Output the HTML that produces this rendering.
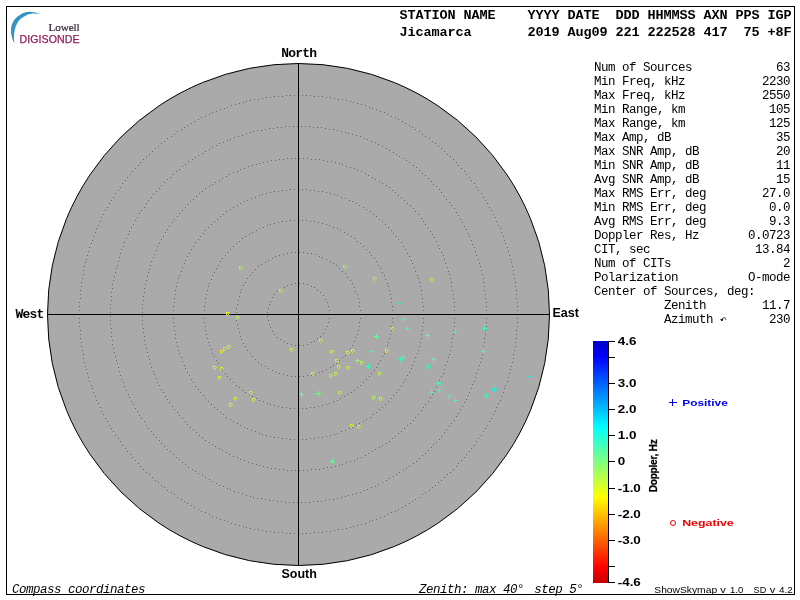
<!DOCTYPE html>
<html><head><meta charset="utf-8"><title>Skymap</title>
<style>
html,body{margin:0;padding:0;background:#fff;}
body{width:800px;height:600px;overflow:hidden;}
svg{display:block;will-change:transform;}
text{white-space:pre;}
.m{font-family:"Liberation Mono",monospace;font-size:12.5px;letter-spacing:-0.5px;fill:#000;}
.mi{font-family:"Liberation Mono",monospace;font-style:italic;font-size:12.5px;letter-spacing:-0.5px;fill:#000;}
.hb{font-family:"Liberation Mono",monospace;font-weight:bold;font-size:13.5px;letter-spacing:-0.1px;fill:#000;}
.mb{font-family:"Liberation Mono",monospace;font-weight:bold;font-size:13px;letter-spacing:-0.8px;fill:#000;}
.sb{font-family:"Liberation Sans",sans-serif;font-weight:bold;fill:#000;}
.s{font-family:"Liberation Sans",sans-serif;fill:#000;}
</style></head><body>
<svg width="800" height="600" viewBox="0 0 800 600">
<defs>
<linearGradient id="jet" x1="0" y1="341" x2="0" y2="583" gradientUnits="userSpaceOnUse">
<stop offset="0" stop-color="#0000c6"/>
<stop offset="0.0652" stop-color="#0000ff"/>
<stop offset="0.3551" stop-color="#00ffff"/>
<stop offset="0.5" stop-color="#80ff80"/>
<stop offset="0.6449" stop-color="#ffff00"/>
<stop offset="0.9348" stop-color="#ff0000"/>
<stop offset="1" stop-color="#c60000"/>
</linearGradient>
<path id="cm" d="M0 0h3v1h-2v2h-1zM3 1h1v1h-1zM2 2h1v1h-1zM1 3h1v1h-1z" stroke="none" shape-rendering="crispEdges"/>
</defs>
<rect x="0" y="0" width="800" height="600" fill="#fff"/>
<rect x="6.5" y="6.5" width="788" height="588" fill="none" stroke="#000" stroke-width="1"/>

<g id="logo">
<path d="M14 42.8 C11.8 38 10.6 33 11.1 28 C12.1 19.3 21 11.2 31.5 11.9 C35 12.1 38 13 40.4 14.3 C35 13 30.5 13.4 27 15 C22 17.2 19.2 19.7 17.2 23.2 C14.6 28 13.2 35 14.4 42.8 Z" fill="#3494c0"/>
<text x="48.6" y="30.6" style="font-family:'Liberation Serif',serif;font-size:11.2px;letter-spacing:-0.15px;fill:#2c1a2c;stroke:#2c1a2c;stroke-width:0.2px;">Lowell</text>
<text x="19.4" y="43.45" style="font-family:'Liberation Sans',sans-serif;font-size:10.6px;letter-spacing:0.1px;fill:#8e1f58;stroke:#8e1f58;stroke-width:0.25px;">DIGISONDE</text>
</g>
<text class="hb" x="399.4" y="19">STATION NAME    YYYY DATE  DDD HHMMSS AXN PPS IGP</text>
<text class="hb" x="399.4" y="36">Jicamarca       2019 Aug09 221 222528 417  75 +8F</text>
<circle cx="298.5" cy="314.5" r="251.0" fill="#aaaaaa" stroke="#000" stroke-width="1"/>
<path d="M329 314h1M329 318h1M328 322h1M327 326h1M325 329h1M323 333h1M320 336h1M317 338h1M314 341h1M311 342h1M307 344h1M303 345h1M299 345h1M295 345h1M291 344h1M287 343h1M284 341h1M280 339h1M277 337h1M274 334h1M272 331h1M270 327h1M269 324h1M268 320h1M267 316h1M267 312h1M268 308h1M269 304h1M270 301h1M272 297h1M274 294h1M277 291h1M280 289h1M284 287h1M287 285h1M291 284h1M295 283h1M299 283h1M303 283h1M307 284h1M311 286h1M314 287h1M317 290h1M320 292h1M323 295h1M325 299h1M327 302h1M328 306h1M329 310h1M360 314h1M360 318h1M359 322h1M359 326h1M358 330h1M357 334h1M355 337h1M354 341h1M352 345h1M350 348h1M347 351h1M345 355h1M342 357h1M339 360h1M336 363h1M333 365h1M330 367h1M326 369h1M322 371h1M319 372h1M315 374h1M311 375h1M307 375h1M303 376h1M299 376h1M295 376h1M291 376h1M287 375h1M283 374h1M279 373h1M275 372h1M272 370h1M268 368h1M265 366h1M261 364h1M258 362h1M255 359h1M252 356h1M250 353h1M247 350h1M245 346h1M243 343h1M241 339h1M240 336h1M239 332h1M238 328h1M237 324h1M236 320h1M236 316h1M236 312h1M236 308h1M237 304h1M238 300h1M239 296h1M240 292h1M241 289h1M243 285h1M245 282h1M247 278h1M250 275h1M252 272h1M255 269h1M258 266h1M261 264h1M265 262h1M268 260h1M272 258h1M275 256h1M279 255h1M283 254h1M287 253h1M291 252h1M295 252h1M299 252h1M303 252h1M307 253h1M311 253h1M315 254h1M319 256h1M322 257h1M326 259h1M330 261h1M333 263h1M336 265h1M339 268h1M342 271h1M345 273h1M347 277h1M350 280h1M352 283h1M354 287h1M355 291h1M357 294h1M358 298h1M359 302h1M359 306h1M360 310h1M392 314h1M392 318h1M392 322h1M391 326h1M391 330h1M390 334h1M389 338h1M388 342h1M387 345h1M385 349h1M384 353h1M382 356h1M380 360h1M378 363h1M376 367h1M374 370h1M371 373h1M369 376h1M366 379h1M363 382h1M360 385h1M357 387h1M354 390h1M351 392h1M347 394h1M344 396h1M340 398h1M337 400h1M333 401h1M329 403h1M326 404h1M322 405h1M318 406h1M314 407h1M310 407h1M306 408h1M302 408h1M298 408h1M294 408h1M290 408h1M286 407h1M282 407h1M278 406h1M274 405h1M270 404h1M267 403h1M263 401h1M259 400h1M256 398h1M252 396h1M249 394h1M245 392h1M242 390h1M239 387h1M236 385h1M233 382h1M230 379h1M227 376h1M225 373h1M222 370h1M220 367h1M218 363h1M216 360h1M214 356h1M212 353h1M211 349h1M209 345h1M208 342h1M207 338h1M206 334h1M205 330h1M205 326h1M204 322h1M204 318h1M204 314h1M204 310h1M204 306h1M205 302h1M205 298h1M206 294h1M207 290h1M208 286h1M209 283h1M211 279h1M212 275h1M214 272h1M216 268h1M218 265h1M220 261h1M222 258h1M225 255h1M227 252h1M230 249h1M233 246h1M236 243h1M239 241h1M242 238h1M245 236h1M249 234h1M252 232h1M256 230h1M259 228h1M263 227h1M267 225h1M270 224h1M274 223h1M278 222h1M282 221h1M286 221h1M290 220h1M294 220h1M298 220h1M302 220h1M306 220h1M310 221h1M314 221h1M318 222h1M322 223h1M326 224h1M329 225h1M333 227h1M337 228h1M340 230h1M344 232h1M347 234h1M351 236h1M354 238h1M357 241h1M360 243h1M363 246h1M366 249h1M369 252h1M371 255h1M374 258h1M376 261h1M378 265h1M380 268h1M382 272h1M384 275h1M385 279h1M387 283h1M388 286h1M389 290h1M390 294h1M391 298h1M391 302h1M392 306h1M392 310h1M423 314h1M423 318h1M423 322h1M422 326h1M422 330h1M421 334h1M421 338h1M420 342h1M419 346h1M418 350h1M417 353h1M415 357h1M414 361h1M412 365h1M411 368h1M409 372h1M407 375h1M405 379h1M403 382h1M401 386h1M398 389h1M396 392h1M393 395h1M391 398h1M388 401h1M385 404h1M382 407h1M379 409h1M376 412h1M373 414h1M370 417h1M366 419h1M363 421h1M359 423h1M356 425h1M352 427h1M349 428h1M345 430h1M341 431h1M337 433h1M334 434h1M330 435h1M326 436h1M322 437h1M318 437h1M314 438h1M310 438h1M306 439h1M302 439h1M298 439h1M294 439h1M290 439h1M286 438h1M282 438h1M278 437h1M274 437h1M270 436h1M266 435h1M262 434h1M259 433h1M255 431h1M251 430h1M247 428h1M244 427h1M240 425h1M237 423h1M233 421h1M230 419h1M226 417h1M223 414h1M220 412h1M217 409h1M214 407h1M211 404h1M208 401h1M205 398h1M203 395h1M200 392h1M198 389h1M195 386h1M193 382h1M191 379h1M189 375h1M187 372h1M185 368h1M184 365h1M182 361h1M181 357h1M179 353h1M178 350h1M177 346h1M176 342h1M175 338h1M175 334h1M174 330h1M174 326h1M173 322h1M173 318h1M173 314h1M173 310h1M173 306h1M174 302h1M174 298h1M175 294h1M175 290h1M176 286h1M177 282h1M178 278h1M179 275h1M181 271h1M182 267h1M184 263h1M185 260h1M187 256h1M189 253h1M191 249h1M193 246h1M195 242h1M198 239h1M200 236h1M203 233h1M205 230h1M208 227h1M211 224h1M214 221h1M217 219h1M220 216h1M223 214h1M226 211h1M230 209h1M233 207h1M237 205h1M240 203h1M244 201h1M247 200h1M251 198h1M255 197h1M259 195h1M262 194h1M266 193h1M270 192h1M274 191h1M278 191h1M282 190h1M286 190h1M290 189h1M294 189h1M298 189h1M302 189h1M306 189h1M310 190h1M314 190h1M318 191h1M322 191h1M326 192h1M330 193h1M334 194h1M337 195h1M341 197h1M345 198h1M349 200h1M352 201h1M356 203h1M359 205h1M363 207h1M366 209h1M370 211h1M373 214h1M376 216h1M379 219h1M382 221h1M385 224h1M388 227h1M391 230h1M393 233h1M396 236h1M398 239h1M401 242h1M403 246h1M405 249h1M407 253h1M409 256h1M411 260h1M412 263h1M414 267h1M415 271h1M417 275h1M418 278h1M419 282h1M420 286h1M421 290h1M421 294h1M422 298h1M422 302h1M423 306h1M423 310h1M454 314h1M454 318h1M454 322h1M454 326h1M453 330h1M453 334h1M452 338h1M451 342h1M451 346h1M450 350h1M449 354h1M448 357h1M447 361h1M445 365h1M444 369h1M443 373h1M441 376h1M439 380h1M438 383h1M436 387h1M434 391h1M432 394h1M430 397h1M428 401h1M425 404h1M423 407h1M421 410h1M418 414h1M415 417h1M413 420h1M410 423h1M407 425h1M404 428h1M401 431h1M398 433h1M395 436h1M392 438h1M389 441h1M386 443h1M382 445h1M379 447h1M375 449h1M372 451h1M368 453h1M365 455h1M361 457h1M357 458h1M354 460h1M350 461h1M346 462h1M342 464h1M339 465h1M335 466h1M331 467h1M327 467h1M323 468h1M319 469h1M315 469h1M311 469h1M307 470h1M303 470h1M299 470h1M295 470h1M291 470h1M287 470h1M283 469h1M279 469h1M275 468h1M271 468h1M267 467h1M263 466h1M259 465h1M256 464h1M252 463h1M248 462h1M244 460h1M240 459h1M237 457h1M233 456h1M229 454h1M226 452h1M222 450h1M219 448h1M215 446h1M212 444h1M209 442h1M205 440h1M202 437h1M199 435h1M196 432h1M193 429h1M190 427h1M187 424h1M185 421h1M182 418h1M179 415h1M177 412h1M174 409h1M172 406h1M169 402h1M167 399h1M165 396h1M163 392h1M161 389h1M159 385h1M157 382h1M156 378h1M154 374h1M153 371h1M151 367h1M150 363h1M149 359h1M148 356h1M147 352h1M146 348h1M145 344h1M144 340h1M144 336h1M143 332h1M143 328h1M142 324h1M142 320h1M142 316h1M142 312h1M142 308h1M142 304h1M143 300h1M143 296h1M144 292h1M144 288h1M145 284h1M146 280h1M147 276h1M148 272h1M149 269h1M150 265h1M151 261h1M153 257h1M154 254h1M156 250h1M157 246h1M159 243h1M161 239h1M163 236h1M165 232h1M167 229h1M169 226h1M172 222h1M174 219h1M177 216h1M179 213h1M182 210h1M185 207h1M187 204h1M190 201h1M193 199h1M196 196h1M199 193h1M202 191h1M205 188h1M209 186h1M212 184h1M215 182h1M219 180h1M222 178h1M226 176h1M229 174h1M233 172h1M237 171h1M240 169h1M244 168h1M248 166h1M252 165h1M256 164h1M259 163h1M263 162h1M267 161h1M271 160h1M275 160h1M279 159h1M283 159h1M287 158h1M291 158h1M295 158h1M299 158h1M303 158h1M307 158h1M311 159h1M315 159h1M319 159h1M323 160h1M327 161h1M331 161h1M335 162h1M339 163h1M342 164h1M346 166h1M350 167h1M354 168h1M357 170h1M361 171h1M365 173h1M368 175h1M372 177h1M375 179h1M379 181h1M382 183h1M386 185h1M389 187h1M392 190h1M395 192h1M398 195h1M401 197h1M404 200h1M407 203h1M410 205h1M413 208h1M415 211h1M418 214h1M421 218h1M423 221h1M425 224h1M428 227h1M430 231h1M432 234h1M434 237h1M436 241h1M438 245h1M439 248h1M441 252h1M443 255h1M444 259h1M445 263h1M447 267h1M448 271h1M449 274h1M450 278h1M451 282h1M451 286h1M452 290h1M453 294h1M453 298h1M454 302h1M454 306h1M454 310h1M486 314h1M486 318h1M486 322h1M486 326h1M485 330h1M485 334h1M484 338h1M484 342h1M483 346h1M483 350h1M482 354h1M481 358h1M480 362h1M479 365h1M478 369h1M476 373h1M475 377h1M474 381h1M472 384h1M471 388h1M469 392h1M468 395h1M466 399h1M464 402h1M462 406h1M460 409h1M458 413h1M456 416h1M454 420h1M451 423h1M449 426h1M446 429h1M444 432h1M441 436h1M439 439h1M436 442h1M433 444h1M431 447h1M428 450h1M425 453h1M422 455h1M419 458h1M416 461h1M413 463h1M409 466h1M406 468h1M403 470h1M399 472h1M396 474h1M393 476h1M389 478h1M386 480h1M382 482h1M378 484h1M375 486h1M371 487h1M367 489h1M364 490h1M360 492h1M356 493h1M352 494h1M348 495h1M345 496h1M341 497h1M337 498h1M333 499h1M329 499h1M325 500h1M321 501h1M317 501h1M313 501h1M309 502h1M305 502h1M301 502h1M297 502h1M293 502h1M289 502h1M285 502h1M281 501h1M277 501h1M273 500h1M269 500h1M265 499h1M261 498h1M257 498h1M253 497h1M250 496h1M246 495h1M242 493h1M238 492h1M234 491h1M230 489h1M227 488h1M223 486h1M219 485h1M216 483h1M212 481h1M209 479h1M205 477h1M202 475h1M198 473h1M195 471h1M192 469h1M188 467h1M185 464h1M182 462h1M179 459h1M176 457h1M173 454h1M170 451h1M167 449h1M164 446h1M161 443h1M159 440h1M156 437h1M153 434h1M151 431h1M148 428h1M146 425h1M144 421h1M141 418h1M139 415h1M137 411h1M135 408h1M133 404h1M131 401h1M129 397h1M128 394h1M126 390h1M124 386h1M123 382h1M121 379h1M120 375h1M119 371h1M118 367h1M117 363h1M116 360h1M115 356h1M114 352h1M113 348h1M112 344h1M112 340h1M111 336h1M111 332h1M111 328h1M110 324h1M110 320h1M110 316h1M110 312h1M110 308h1M110 304h1M111 300h1M111 296h1M111 292h1M112 288h1M112 284h1M113 280h1M114 276h1M115 272h1M116 268h1M117 265h1M118 261h1M119 257h1M120 253h1M121 249h1M123 246h1M124 242h1M126 238h1M128 234h1M129 231h1M131 227h1M133 224h1M135 220h1M137 217h1M139 213h1M141 210h1M144 207h1M146 203h1M148 200h1M151 197h1M153 194h1M156 191h1M159 188h1M161 185h1M164 182h1M167 179h1M170 177h1M173 174h1M176 171h1M179 169h1M182 166h1M185 164h1M188 161h1M192 159h1M195 157h1M198 155h1M202 153h1M205 151h1M209 149h1M212 147h1M216 145h1M219 143h1M223 142h1M227 140h1M230 139h1M234 137h1M238 136h1M242 135h1M246 133h1M250 132h1M253 131h1M257 130h1M261 130h1M265 129h1M269 128h1M273 128h1M277 127h1M281 127h1M285 126h1M289 126h1M293 126h1M297 126h1M301 126h1M305 126h1M309 126h1M313 127h1M317 127h1M321 127h1M325 128h1M329 129h1M333 129h1M337 130h1M341 131h1M345 132h1M348 133h1M352 134h1M356 135h1M360 136h1M364 138h1M367 139h1M371 141h1M375 142h1M378 144h1M382 146h1M386 148h1M389 150h1M393 152h1M396 154h1M399 156h1M403 158h1M406 160h1M409 162h1M413 165h1M416 167h1M419 170h1M422 173h1M425 175h1M428 178h1M431 181h1M433 184h1M436 186h1M439 189h1M441 192h1M444 196h1M446 199h1M449 202h1M451 205h1M454 208h1M456 212h1M458 215h1M460 219h1M462 222h1M464 226h1M466 229h1M468 233h1M469 236h1M471 240h1M472 244h1M474 247h1M475 251h1M476 255h1M478 259h1M479 263h1M480 266h1M481 270h1M482 274h1M483 278h1M483 282h1M484 286h1M484 290h1M485 294h1M485 298h1M486 302h1M486 306h1M486 310h1M517 314h1M517 318h1M517 322h1M517 326h1M516 330h1M516 334h1M516 338h1M515 342h1M515 346h1M514 350h1M513 354h1M513 358h1M512 362h1M511 366h1M510 369h1M509 373h1M508 377h1M507 381h1M505 385h1M504 388h1M503 392h1M501 396h1M500 400h1M498 403h1M496 407h1M495 411h1M493 414h1M491 418h1M489 421h1M487 425h1M485 428h1M483 431h1M481 435h1M478 438h1M476 441h1M474 445h1M471 448h1M469 451h1M466 454h1M464 457h1M461 460h1M458 463h1M456 466h1M453 469h1M450 472h1M447 474h1M444 477h1M441 480h1M438 482h1M435 485h1M432 487h1M429 490h1M425 492h1M422 494h1M419 497h1M415 499h1M412 501h1M409 503h1M405 505h1M402 507h1M398 509h1M395 511h1M391 512h1M387 514h1M384 516h1M380 517h1M376 519h1M372 520h1M369 521h1M365 523h1M361 524h1M357 525h1M353 526h1M350 527h1M346 528h1M342 529h1M338 529h1M334 530h1M330 531h1M326 531h1M322 532h1M318 532h1M314 532h1M310 533h1M306 533h1M302 533h1M298 533h1M294 533h1M290 533h1M286 533h1M282 532h1M278 532h1M274 532h1M270 531h1M266 531h1M262 530h1M258 529h1M254 529h1M250 528h1M246 527h1M243 526h1M239 525h1M235 524h1M231 523h1M227 521h1M224 520h1M220 519h1M216 517h1M212 516h1M209 514h1M205 512h1M201 511h1M198 509h1M194 507h1M191 505h1M187 503h1M184 501h1M181 499h1M177 497h1M174 494h1M171 492h1M167 490h1M164 487h1M161 485h1M158 482h1M155 480h1M152 477h1M149 474h1M146 472h1M143 469h1M140 466h1M138 463h1M135 460h1M132 457h1M130 454h1M127 451h1M125 448h1M122 445h1M120 441h1M118 438h1M115 435h1M113 431h1M111 428h1M109 425h1M107 421h1M105 418h1M103 414h1M101 411h1M100 407h1M98 403h1M96 400h1M95 396h1M93 392h1M92 388h1M91 385h1M89 381h1M88 377h1M87 373h1M86 369h1M85 366h1M84 362h1M83 358h1M83 354h1M82 350h1M81 346h1M81 342h1M80 338h1M80 334h1M80 330h1M79 326h1M79 322h1M79 318h1M79 314h1M79 310h1M79 306h1M79 302h1M80 298h1M80 294h1M80 290h1M81 286h1M81 282h1M82 278h1M83 274h1M83 270h1M84 266h1M85 262h1M86 259h1M87 255h1M88 251h1M89 247h1M91 243h1M92 240h1M93 236h1M95 232h1M96 228h1M98 225h1M100 221h1M101 217h1M103 214h1M105 210h1M107 207h1M109 203h1M111 200h1M113 197h1M115 193h1M118 190h1M120 187h1M122 183h1M125 180h1M127 177h1M130 174h1M132 171h1M135 168h1M138 165h1M140 162h1M143 159h1M146 156h1M149 154h1M152 151h1M155 148h1M158 146h1M161 143h1M164 141h1M167 138h1M171 136h1M174 134h1M177 131h1M181 129h1M184 127h1M187 125h1M191 123h1M194 121h1M198 119h1M201 117h1M205 116h1M209 114h1M212 112h1M216 111h1M220 109h1M224 108h1M227 107h1M231 105h1M235 104h1M239 103h1M243 102h1M246 101h1M250 100h1M254 99h1M258 99h1M262 98h1M266 97h1M270 97h1M274 96h1M278 96h1M282 96h1M286 95h1M290 95h1M294 95h1M298 95h1M302 95h1M306 95h1M310 95h1M314 96h1M318 96h1M322 96h1M326 97h1M330 97h1M334 98h1M338 99h1M342 99h1M346 100h1M350 101h1M353 102h1M357 103h1M361 104h1M365 105h1M369 107h1M372 108h1M376 109h1M380 111h1M384 112h1M387 114h1M391 116h1M395 117h1M398 119h1M402 121h1M405 123h1M409 125h1M412 127h1M415 129h1M419 131h1M422 134h1M425 136h1M429 138h1M432 141h1M435 143h1M438 146h1M441 148h1M444 151h1M447 154h1M450 156h1M453 159h1M456 162h1M458 165h1M461 168h1M464 171h1M466 174h1M469 177h1M471 180h1M474 183h1M476 187h1M478 190h1M481 193h1M483 197h1M485 200h1M487 203h1M489 207h1M491 210h1M493 214h1M495 217h1M496 221h1M498 225h1M500 228h1M501 232h1M503 236h1M504 240h1M505 243h1M507 247h1M508 251h1M509 255h1M510 259h1M511 262h1M512 266h1M513 270h1M513 274h1M514 278h1M515 282h1M515 286h1M516 290h1M516 294h1M516 298h1M517 302h1M517 306h1M517 310h1" transform="translate(0 0.5)" fill="none" stroke="#646464" stroke-width="1" shape-rendering="crispEdges"/>
<line x1="298.5" y1="63.5" x2="298.5" y2="565.5" stroke="#000" stroke-width="1"/>
<line x1="47.5" y1="314.5" x2="549.5" y2="314.5" stroke="#000" stroke-width="1"/>
<text class="mb" x="281.3" y="57">North</text>
<text class="mb" x="15.6" y="317.6">West</text>
<text class="sb" x="552.5" y="317.4" style="font-size:12.5px">East</text>
<text class="sb" x="281.5" y="577.8" style="font-size:12.5px">South</text>
<g fill="none" stroke-width="1">
<use href="#cm" x="239" y="266" fill="#b2f24c"/>
<use href="#cm" x="279" y="289" fill="#c0eb4c"/>
<use href="#cm" x="226" y="312" fill="#f2f21a"/>
<use href="#cm" x="236" y="316" fill="#bbe655"/>
<use href="#cm" x="227" y="345" fill="#c4f244"/>
<use href="#cm" x="223" y="347" fill="#bbee55"/>
<use href="#cm" x="220" y="350" fill="#f2e61a"/>
<use href="#cm" x="213" y="366" fill="#c4f23c"/>
<use href="#cm" x="220" y="367" fill="#ccee33"/>
<use href="#cm" x="218" y="376" fill="#c4f23c"/>
<use href="#cm" x="249" y="391" fill="#c4f23c"/>
<use href="#cm" x="290" y="348" fill="#bbee4c"/>
<use href="#cm" x="234" y="397" fill="#c4f23c"/>
<use href="#cm" x="252" y="398" fill="#c4f23c"/>
<use href="#cm" x="229" y="403" fill="#c4f23c"/>
<use href="#cm" x="343" y="265" fill="#99f25e"/>
<use href="#cm" x="373" y="277" fill="#a2f25e"/>
<use href="#cm" x="430" y="278" fill="#b2f24c"/>
<use href="#cm" x="391" y="327" fill="#d4e62a"/>
<use href="#cm" x="319" y="339" fill="#b2f24c"/>
<use href="#cm" x="330" y="350" fill="#bbf24c"/>
<use href="#cm" x="346" y="351" fill="#c4ee44"/>
<use href="#cm" x="351" y="349" fill="#d4ee3c"/>
<use href="#cm" x="385" y="349" fill="#dde62a"/>
<use href="#cm" x="335" y="359" fill="#bbf24c"/>
<use href="#cm" x="360" y="361" fill="#c4ee44"/>
<use href="#cm" x="337" y="365" fill="#d4ee33"/>
<use href="#cm" x="346" y="366" fill="#c4ee44"/>
<use href="#cm" x="311" y="372" fill="#bbee4c"/>
<use href="#cm" x="334" y="372" fill="#bbf24c"/>
<use href="#cm" x="329" y="374" fill="#bbee4c"/>
<use href="#cm" x="378" y="372" fill="#bbee4c"/>
<use href="#cm" x="338" y="391" fill="#bbee4c"/>
<use href="#cm" x="372" y="396" fill="#aaf25e"/>
<use href="#cm" x="379" y="397" fill="#d4ee3c"/>
<use href="#cm" x="350" y="424" fill="#d4ee33"/>
<use href="#cm" x="357" y="425" fill="#bbf24c"/>
</g>
<g fill="none" stroke-width="1">
<path d="M397.0 303.5h5M399.5 301.0v5" stroke="#11f6ce"/>
<path d="M401.0 319.5h5M403.5 317.0v5" stroke="#3ef6bc"/>
<path d="M405.0 328.5h5M407.5 326.0v5" stroke="#47f6aa"/>
<path d="M453.0 331.5h5M455.5 329.0v5" stroke="#35f6c5"/>
<path d="M425.0 335.5h5M427.5 333.0v5" stroke="#6bf698"/>
<path d="M482.0 328.5h5M484.5 326.0v5" stroke="#47f6b3"/>
<path d="M481.0 351.5h5M483.5 349.0v5" stroke="#47f6aa"/>
<path d="M527.0 376.5h5M529.5 374.0v5" stroke="#11f6e0"/>
<path d="M374.0 336.5h5M376.5 334.0v5" stroke="#6bf6a1"/>
<path d="M369.0 351.5h5M371.5 349.0v5" stroke="#35f6c5"/>
<path d="M355.0 360.5h5M357.5 358.0v5" stroke="#7df686"/>
<path d="M366.0 366.5h5M368.5 364.0v5" stroke="#35f6c5"/>
<path d="M398.0 359.5h5M400.5 357.0v5" stroke="#3ef6bc"/>
<path d="M401.0 357.5h5M403.5 355.0v5" stroke="#3ef6bc"/>
<path d="M431.0 359.5h5M433.5 357.0v5" stroke="#59f6aa"/>
<path d="M426.0 366.5h5M428.5 364.0v5" stroke="#3ef6bc"/>
<path d="M436.0 383.5h5M438.5 381.0v5" stroke="#3ef6bc"/>
<path d="M437.0 390.5h5M439.5 388.0v5" stroke="#3ef6bc"/>
<path d="M429.0 392.5h5M431.5 390.0v5" stroke="#47f6b3"/>
<path d="M447.0 396.5h5M449.5 394.0v5" stroke="#3ef6bc"/>
<path d="M453.0 400.5h5M455.5 398.0v5" stroke="#3ef6bc"/>
<path d="M492.0 389.5h5M494.5 387.0v5" stroke="#11f6e0"/>
<path d="M484.0 395.5h5M486.5 393.0v5" stroke="#47f6b3"/>
<path d="M299.0 394.5h5M301.5 392.0v5" stroke="#6bf6a1"/>
<path d="M316.0 393.5h5M318.5 391.0v5" stroke="#7df686"/>
<path d="M330.0 461.5h5M332.5 459.0v5" stroke="#6bf698"/>
</g>
<text class="m" x="594" y="71">Num of Sources            63</text>
<text class="m" x="594" y="85">Min Freq, kHz           2230</text>
<text class="m" x="594" y="99">Max Freq, kHz           2550</text>
<text class="m" x="594" y="113">Min Range, km            105</text>
<text class="m" x="594" y="127">Max Range, km            125</text>
<text class="m" x="594" y="141">Max Amp, dB               35</text>
<text class="m" x="594" y="155">Max SNR Amp, dB           20</text>
<text class="m" x="594" y="169">Min SNR Amp, dB           11</text>
<text class="m" x="594" y="183">Avg SNR Amp, dB           15</text>
<text class="m" x="594" y="197">Max RMS Err, deg        27.0</text>
<text class="m" x="594" y="211">Min RMS Err, deg         0.0</text>
<text class="m" x="594" y="225">Avg RMS Err, deg         9.3</text>
<text class="m" x="594" y="239">Doppler Res, Hz       0.0723</text>
<text class="m" x="594" y="253">CIT, sec               13.84</text>
<text class="m" x="594" y="267">Num of CITs                2</text>
<text class="m" x="594" y="281">Polarization          O-mode</text>
<text class="m" x="594" y="295">Center of Sources, deg:     </text>
<text class="m" x="594" y="309">          Zenith        11.7</text>
<text class="m" x="594" y="323">          Azimuth        230</text>
<path d="M722 320 Q723 317 724.6 317.5 Q726 318 725.7 319.8" fill="none" stroke="#333" stroke-width="0.9"/>
<path d="M720.2 319.2 L723.3 318.5 L722.6 321 L721.4 320.9 Z" fill="#111"/>
<rect x="593" y="341" width="15" height="242" fill="url(#jet)"/>
<line x1="608.5" y1="341" x2="608.5" y2="583" stroke="#000" stroke-width="1"/>
<line x1="608" y1="341.5" x2="615" y2="341.5" stroke="#000" stroke-width="1"/>
<text class="sb" transform="translate(617.7 345.4) scale(1.2 1)" style="font-size:11.2px">4.6</text>
<line x1="608" y1="357.5" x2="615" y2="357.5" stroke="#000" stroke-width="1"/>
<line x1="608" y1="383.5" x2="615" y2="383.5" stroke="#000" stroke-width="1"/>
<text class="sb" transform="translate(617.7 387.4) scale(1.2 1)" style="font-size:11.2px">3.0</text>
<line x1="608" y1="409.5" x2="615" y2="409.5" stroke="#000" stroke-width="1"/>
<text class="sb" transform="translate(617.7 413.4) scale(1.2 1)" style="font-size:11.2px">2.0</text>
<line x1="608" y1="435.5" x2="615" y2="435.5" stroke="#000" stroke-width="1"/>
<text class="sb" transform="translate(617.7 439.4) scale(1.2 1)" style="font-size:11.2px">1.0</text>
<line x1="608" y1="461.5" x2="615" y2="461.5" stroke="#000" stroke-width="1"/>
<text class="sb" transform="translate(617.7 465.4) scale(1.2 1)" style="font-size:11.2px">0</text>
<line x1="608" y1="488.5" x2="615" y2="488.5" stroke="#000" stroke-width="1"/>
<text class="sb" transform="translate(617.7 492.4) scale(1.2 1)" style="font-size:11.2px">-1.0</text>
<line x1="608" y1="514.5" x2="615" y2="514.5" stroke="#000" stroke-width="1"/>
<text class="sb" transform="translate(617.7 518.4) scale(1.2 1)" style="font-size:11.2px">-2.0</text>
<line x1="608" y1="540.5" x2="615" y2="540.5" stroke="#000" stroke-width="1"/>
<text class="sb" transform="translate(617.7 544.4) scale(1.2 1)" style="font-size:11.2px">-3.0</text>
<line x1="608" y1="566.5" x2="615" y2="566.5" stroke="#000" stroke-width="1"/>
<line x1="608" y1="582.5" x2="615" y2="582.5" stroke="#000" stroke-width="1"/>
<text class="sb" transform="translate(617.7 586.4) scale(1.2 1)" style="font-size:11.2px">-4.6</text>
<text class="sb" transform="translate(657.3 492.3) rotate(-90)" style="font-size:10.2px;letter-spacing:-0.3px;stroke:#000;stroke-width:0.25px">Doppler, Hz</text>
<path d="M669 402.5h8M672.5 399v7" stroke="#0000ee" stroke-width="1" fill="none"/>
<text class="sb" transform="translate(682.2 405.9) scale(1.215 1)" style="font-size:9.8px;fill:#0000ee">Positive</text>
<circle cx="673" cy="523" r="2.5" fill="none" stroke="#ee0000" stroke-width="1"/>
<text class="sb" transform="translate(682.2 525.9) scale(1.262 1)" style="font-size:9.8px;fill:#ee0000">Negative</text>
<text class="mi" x="12" y="593">Compass coordinates</text>
<text class="mi" x="419" y="593">Zenith: max 40°</text>
<text class="mi" x="534.2" y="593">step 5°</text>
<text class="s" x="654.3" y="592.8" style="font-size:9.6px" textLength="62.8" lengthAdjust="spacingAndGlyphs">ShowSkymap</text>
<text class="s" x="720.3" y="592.8" style="font-size:9.6px" textLength="5.6" lengthAdjust="spacingAndGlyphs">v</text>
<text class="s" x="730.1" y="592.8" style="font-size:9.6px" textLength="13.2" lengthAdjust="spacingAndGlyphs">1.0</text>
<text class="s" x="753.6" y="592.8" style="font-size:9.6px" textLength="12.7" lengthAdjust="spacingAndGlyphs">SD</text>
<text class="s" x="769.8" y="592.8" style="font-size:9.6px" textLength="5.6" lengthAdjust="spacingAndGlyphs">v</text>
<text class="s" x="778.9" y="592.8" style="font-size:9.6px" textLength="13.8" lengthAdjust="spacingAndGlyphs">4.2</text>
</svg></body></html>
